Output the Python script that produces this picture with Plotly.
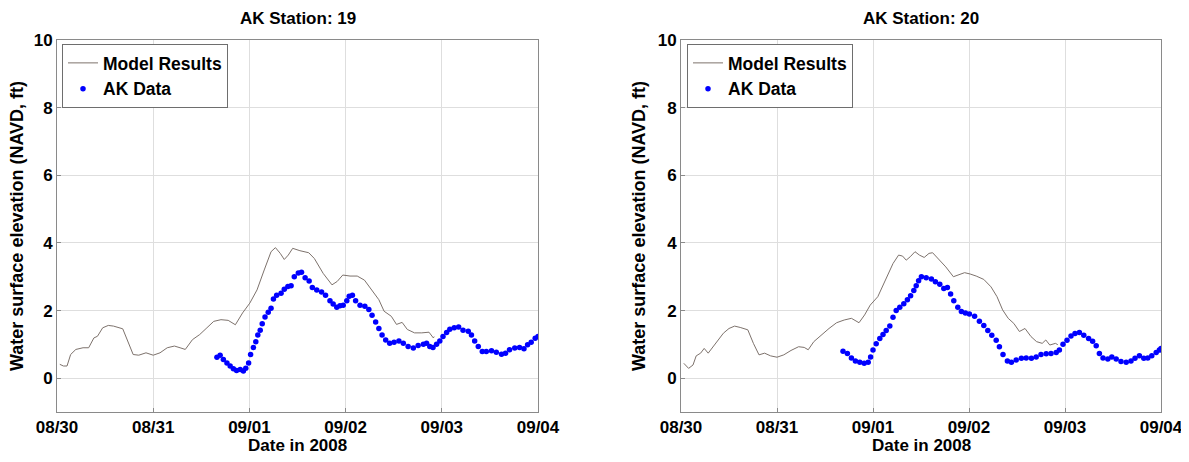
import pandas as pd
import plotly.graph_objects as go

# ---------------- data (hours after 2008-08-30 00:00, elevation ft NAVD) ----------------
BASE = "2008-08-30"
TICK_DATES = ["2008-08-30", "2008-08-31", "2008-09-01", "2008-09-02", "2008-09-03", "2008-09-04"]
TICK_LABELS = ["08/30", "08/31", "09/01", "09/02", "09/03", "09/04"]
TITLES = ["AK Station: 19", "AK Station: 20"]

model19_h = [0.7, 1.6, 2.5, 3.4, 4.7, 6.5, 7.9, 9.2, 10.1, 11.4, 12.8, 14.1, 16.4, 17.7, 19.0, 20.4,
             22.2, 24.0, 25.7, 27.5, 29.3, 30.7, 32.0, 33.8, 35.6, 37.4, 39.1, 40.9, 42.7, 44.5, 46.3,
             48.1, 49.9, 51.7, 53.4, 54.5, 55.7, 56.7, 57.7, 58.8, 60.6, 62.8, 64.2, 66.4, 68.6, 69.9,
             71.3, 73.1, 74.9, 76.7, 78.5, 80.3, 81.6, 83.4, 84.7, 86.1, 87.4, 89.2, 91.0, 92.8, 93.9, 94.1]
model19_v = [0.41, 0.36, 0.36, 0.70, 0.85, 0.90, 0.90, 1.19, 1.24, 1.49, 1.56, 1.54, 1.46, 1.05, 0.70, 0.68,
             0.75, 0.68, 0.75, 0.90, 0.95, 0.90, 0.85, 1.14, 1.29, 1.49, 1.68, 1.73, 1.71, 1.58, 1.93,
             2.22, 2.61, 3.20, 3.74, 3.86, 3.69, 3.51, 3.64, 3.84, 3.77, 3.71, 3.54, 3.10, 2.76, 2.86,
             3.05, 3.02, 3.02, 2.90, 2.61, 2.32, 1.98, 1.83, 1.59, 1.65, 1.44, 1.34, 1.34, 1.36, 1.19, 1.23]

data19_h = [39.9, 40.7, 41.5, 42.4, 43.2, 44.0, 44.8, 45.7, 46.5, 47.1, 47.8, 48.3, 49.0, 49.6, 50.1,
            50.7, 51.2, 51.9, 52.7, 53.4, 54.0, 54.8, 55.9, 56.7, 57.6, 58.4, 59.2, 60.2, 61.0, 61.9,
            62.9, 63.7, 64.8, 66.0, 67.0, 68.1, 68.9, 69.8, 70.6, 71.4, 72.3, 72.9, 73.7, 74.5, 75.6,
            76.8, 77.8, 78.6, 79.5, 80.3, 81.1, 82.0, 83.0, 84.1, 85.3, 86.4, 87.6, 88.9, 90.1, 91.4,
            92.2, 93.0, 93.8, 94.7, 95.5, 96.3, 97.2, 98.0, 99.1, 100.2, 101.3, 102.6, 103.4, 104.2,
            105.1, 106.1, 107.1, 108.4, 109.6, 110.9, 111.9, 112.9, 114.2, 115.4, 116.5, 117.4, 118.3,
            119.3, 120.0]
data19_v = [0.62, 0.68, 0.55, 0.45, 0.36, 0.28, 0.23, 0.26, 0.21, 0.29, 0.45, 0.70, 0.91, 1.08, 1.28,
            1.42, 1.61, 1.81, 1.95, 2.07, 2.34, 2.45, 2.51, 2.63, 2.71, 2.73, 3.00, 3.11, 3.13, 2.97,
            2.87, 2.68, 2.61, 2.55, 2.45, 2.29, 2.19, 2.10, 2.14, 2.16, 2.29, 2.42, 2.45, 2.29, 2.16,
            2.13, 2.03, 1.86, 1.66, 1.47, 1.28, 1.13, 1.03, 1.06, 1.10, 1.03, 0.94, 0.89, 0.97, 1.00,
            1.03, 0.94, 0.91, 1.00, 1.10, 1.23, 1.35, 1.45, 1.49, 1.51, 1.42, 1.39, 1.28, 1.10,
            0.94, 0.79, 0.79, 0.81, 0.77, 0.71, 0.74, 0.84, 0.89, 0.91, 0.87, 0.99, 1.06,
            1.18, 1.23]

model20_h = [0.7, 1.9, 3.0, 3.8, 4.9, 5.8, 6.8, 7.7, 9.2, 10.6, 12.0, 13.4, 14.8, 16.7, 18.1, 19.5,
             20.9, 22.4, 24.0, 25.7, 27.5, 29.4, 30.8, 31.8, 33.2, 35.1, 37.0, 38.9, 40.8, 42.6, 44.5,
             45.9, 47.3, 49.2, 51.1, 53.0, 54.4, 55.4, 56.3, 57.3, 58.5, 59.6, 60.8, 62.0, 62.9, 64.3,
             66.2, 68.1, 69.5, 70.9, 72.3, 73.8, 75.7, 77.5, 79.0, 80.4, 81.8, 83.2, 84.6, 86.0, 87.5,
             88.9, 90.3, 91.2, 92.2, 93.6, 94.2]
model20_v = [0.44, 0.29, 0.39, 0.66, 0.74, 0.88, 0.74, 0.88, 1.13, 1.33, 1.47, 1.54, 1.50, 1.43, 1.03, 0.69,
             0.74, 0.66, 0.62, 0.69, 0.82, 0.93, 0.91, 0.84, 1.08, 1.28, 1.47, 1.64, 1.72, 1.77, 1.64,
             1.87, 2.16, 2.41, 2.90, 3.39, 3.64, 3.61, 3.49, 3.59, 3.74, 3.64, 3.57, 3.69, 3.71, 3.54,
             3.29, 3.00, 3.05, 3.12, 3.08, 3.02, 2.92, 2.70, 2.41, 2.02, 1.77, 1.62, 1.38, 1.47, 1.23,
             1.08, 1.03, 1.13, 0.98, 1.03, 0.99]

data20_h = [40.5, 41.6, 42.6, 43.6, 44.7, 45.8, 46.8, 47.4, 48.0, 48.8, 49.7, 50.5, 51.3, 52.2, 53.0,
            53.8, 54.7, 55.7, 56.6, 57.4, 58.2, 58.8, 59.4, 60.1, 61.3, 62.6, 63.6, 64.7, 65.7, 66.6,
            67.4, 68.2, 69.2, 70.1, 71.1, 72.1, 73.4, 74.6, 75.7, 76.7, 77.7, 78.8, 79.6, 80.5, 81.6,
            82.6, 83.8, 85.1, 86.3, 87.6, 88.8, 90.0, 91.3, 92.5, 93.8, 94.6, 95.5, 96.5, 97.5, 98.5,
            99.6, 100.7, 101.9, 102.9, 103.8, 104.6, 105.5, 106.7, 107.7, 108.8, 110.0, 111.3, 112.5,
            113.5, 114.6, 115.7, 116.7, 117.7, 118.8, 119.6, 120.0]
data20_v = [0.80, 0.73, 0.60, 0.51, 0.47, 0.44, 0.47, 0.63, 0.83, 1.02, 1.17, 1.29, 1.41, 1.54, 1.80,
            2.00, 2.10, 2.20, 2.32, 2.44, 2.59, 2.73, 2.88, 3.00, 2.97, 2.93, 2.85, 2.78, 2.65, 2.68,
            2.49, 2.29, 2.10, 1.97, 1.93, 1.90, 1.83, 1.68, 1.56, 1.41, 1.27, 1.12, 0.93, 0.70, 0.51,
            0.47, 0.54, 0.59, 0.60, 0.59, 0.63, 0.70, 0.72, 0.73, 0.76, 0.83, 1.00, 1.12, 1.25, 1.32,
            1.35, 1.27, 1.17, 1.09, 0.96, 0.73, 0.60, 0.57, 0.63, 0.57, 0.49, 0.47, 0.51,
            0.59, 0.66, 0.59, 0.60, 0.66, 0.76, 0.83, 0.88]


def to_dates(hours):
    return pd.Timestamp(BASE) + pd.to_timedelta(hours, unit="h")


# the page body has an 8px margin: size the figure to fill the rest of the window
WIN_W, WIN_H, OFF = 1189, 462, 8
W, H = WIN_W - OFF, WIN_H - OFF


def px(x):  # window pixel -> paper x
    return (x - OFF) / W


def py(y):  # window pixel -> paper y
    return 1 - (y - OFF) / H


FONT = "Liberation Sans, Arial, sans-serif"
MODEL_COLOR = "#7d726c"
DATA_COLOR = "#0000ff"
TEXT_SIZE = 18

x_domains = [[px(57), px(538)], [px(681), px(1161)]]
y_domain = [py(412), py(40)]

fig = go.Figure()
panels = [
    (model19_h, model19_v, data19_h, data19_v),
    (model20_h, model20_v, data20_h, data20_v),
]
for i, (mh, mv, dh, dv) in enumerate(panels):
    xa = "x" if i == 0 else "x2"
    ya = "y" if i == 0 else "y2"
    lg = "legend" if i == 0 else "legend2"
    fig.add_trace(go.Scatter(x=to_dates(mh), y=mv, mode="lines", name="Model Results",
                             line=dict(color=MODEL_COLOR, width=1), xaxis=xa, yaxis=ya, legend=lg))
    fig.add_trace(go.Scatter(x=to_dates(dh), y=dv, mode="markers", name="AK Data",
                             marker=dict(color=DATA_COLOR, size=5.5, line=dict(width=0)),
                             xaxis=xa, yaxis=ya, legend=lg))

axis_common = dict(showline=True, linecolor="#8a8a8a", linewidth=1, mirror=True,
                   showgrid=True, gridcolor="#dedede", gridwidth=1, zeroline=False,
                   ticks="inside", ticklen=4, tickcolor="#8a8a8a", automargin=False,
                   tickfont=dict(family=FONT, size=17, color="black", weight="bold"))

layout_axes = {}
for i in range(2):
    sx = "" if i == 0 else "2"
    layout_axes["xaxis" + sx] = dict(axis_common, domain=x_domains[i], type="date",
                                     range=[TICK_DATES[0], TICK_DATES[-1]],
                                     tickvals=TICK_DATES, ticktext=TICK_LABELS,
                                     anchor="y" + sx)
    layout_axes["yaxis" + sx] = dict(axis_common, domain=y_domain, range=[-1, 10],
                                     tickvals=[0, 2, 4, 6, 8, 10], anchor="x" + sx)

annotations = []
for i in range(2):
    cx = (x_domains[i][0] + x_domains[i][1]) / 2
    annotations.append(dict(text=TITLES[i], x=cx, y=py(19), xref="paper", yref="paper",
                            showarrow=False, xanchor="center", yanchor="middle",
                            font=dict(family=FONT, size=17, color="black", weight="bold")))
    annotations.append(dict(text="Date in 2008", x=cx, y=py(445), xref="paper", yref="paper",
                            showarrow=False, xanchor="center", yanchor="middle",
                            font=dict(family=FONT, size=17, color="black", weight="bold")))
    ytx = px(17) if i == 0 else px(639)
    annotations.append(dict(text="Water surface elevation (NAVD, ft)", x=ytx,
                            y=(y_domain[0] + y_domain[1]) / 2, xref="paper", yref="paper",
                            showarrow=False, textangle=-90, xanchor="center", yanchor="middle",
                            font=dict(family=FONT, size=TEXT_SIZE, color="black", weight="bold")))

legend_common = dict(xanchor="left", yanchor="top", bgcolor="white", bordercolor="#6e6e6e",
                     borderwidth=1, tracegroupgap=0, itemwidth=30,
                     font=dict(family=FONT, size=17.5, color="black", weight="bold"))

fig.update_layout(
    width=W, height=H, margin=dict(l=0, r=0, t=0, b=0),
    paper_bgcolor="white", plot_bgcolor="white", showlegend=True,
    legend=dict(legend_common, x=px(62), y=py(44)),
    legend2=dict(legend_common, x=px(687), y=py(44)),
    annotations=annotations,
    **layout_axes,
)

fig.write_html("out.html")
